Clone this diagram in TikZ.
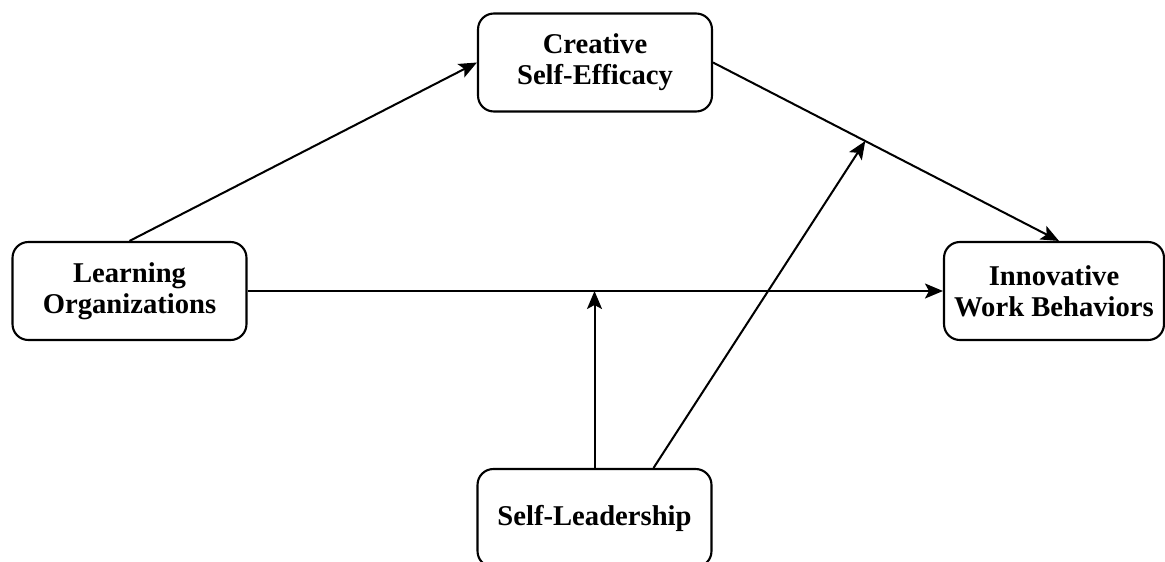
\documentclass[tikz,border=0pt]{standalone}
\usepackage{fontspec}
\setmainfont{Liberation Serif}
\usetikzlibrary{positioning,calc,arrows.meta}

\begin{document}
\begin{tikzpicture}[
    x=0.02cm, y=-0.02cm,
    box/.style={
        rectangle,
        rounded corners=9pt,
        minimum width=4.68cm,
        minimum height=1.96cm,
        draw=black,
        line width=1.2pt,
        align=center,
        inner sep=2pt,
        font=\fontsize{16.3}{17.5}\selectfont\bfseries
    },
    arrow/.style={
        -{Stealth[length=0.36cm,width=0.3cm,inset=0.08cm]},
        line width=1.15pt,
        black
    }
]
\useasboundingbox (0,0) rectangle (1165,561);

% Boxes
\node[box] (cse) at (595,62.5) {Creative\\Self-Efficacy};
\node[box] (lo) at (129.5,291) {Learning\\Organizations};
\node[box, minimum width=4.4cm] (iwb) at (1054,291) {Innovative\\Work Behaviors};
\node[box] (sl) at (594.5,518) {Self-Leadership};

% Helper points
\coordinate (mod) at ($(cse.east)!0.44!([xshift=0.1cm]iwb.north)$);
\coordinate (slr) at ($(sl.north west)!0.75!(sl.north east)$);

% Arrows
\draw[arrow] (lo.north) -- (cse.west);
\draw[arrow] (cse.east) -- ([xshift=0.1cm]iwb.north);
\draw[arrow] (lo.east) -- (iwb.west);
\draw[arrow] (sl.north) -- (sl.north |- lo.east);
\draw[arrow] (slr) -- (mod);

\end{tikzpicture}
\end{document}
